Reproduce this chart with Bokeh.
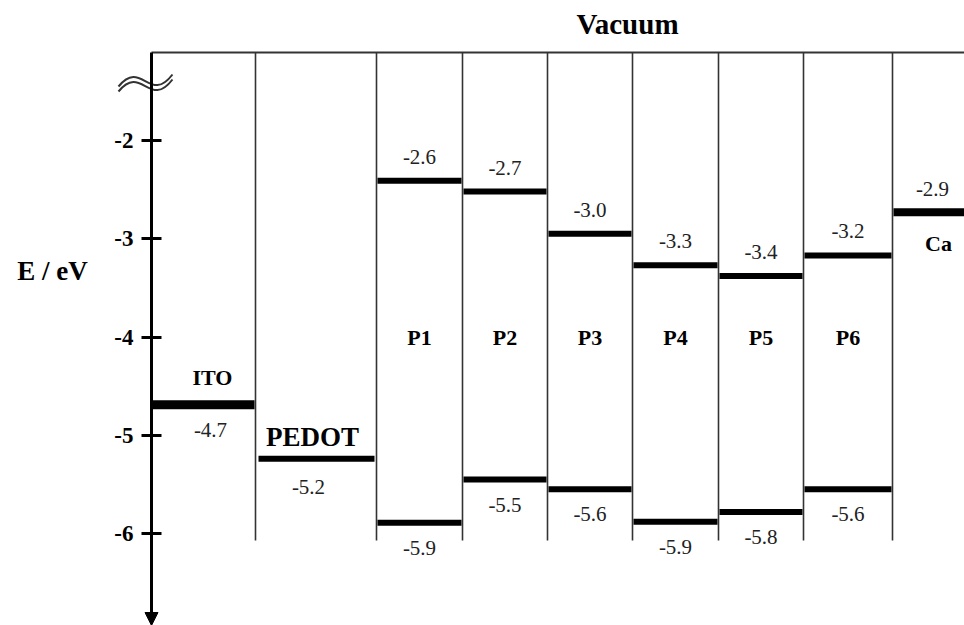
from bokeh.plotting import figure
from bokeh.models import Range1d, FixedTicker, Arrow, NormalHead
from bokeh.core.properties import value
from bokeh.embed import file_html
from bokeh.resources import INLINE

# ---------------- data ----------------
polymers = ["P1", "P2", "P3", "P4", "P5", "P6"]
lumo_levels = [-2.41, -2.52, -2.95, -3.27, -3.38, -3.17]     # drawn positions
homo_levels = [-5.89, -5.45, -5.55, -5.88, -5.78, -5.55]
lumo_labels = ["-2.6", "-2.7", "-3.0", "-3.3", "-3.4", "-3.2"]
homo_labels = ["-5.9", "-5.5", "-5.6", "-5.9", "-5.8", "-5.6"]

electrodes = ["ITO", "PEDOT", "Ca"]
electrode_levels = [-4.69, -5.24, -2.73]
electrode_labels = ["-4.7", "-5.2", "-2.9"]

y_ticks = [-2, -3, -4, -5, -6]
y_tick_labels = ["-2", "-3", "-4", "-5", "-6"]

# ---------------- layout ----------------
W, H = 964, 625
PX_PER_EV = 98.25
PX_AT_M2 = 140.0


def ev(px):
    return -2.0 - (px - PX_AT_M2) / PX_PER_EV


AXIS_X = 151
col_edges = [151, 255, 376, 462, 547, 632, 718, 803, 892, W]
TOP = ev(52)
LINE_BOTTOM = ev(540)
AXIS_BOTTOM = ev(622)

FONT = value("Liberation Serif")

p = figure(width=W, height=H, x_range=Range1d(0, W), y_range=Range1d(ev(H), ev(0)),
           min_border=0, toolbar_location=None, output_backend="svg",
           outline_line_color=None)
p.xaxis.visible = False
p.xgrid.visible = False
p.ygrid.visible = False

ax = p.yaxis[0]
ax.fixed_location = AXIS_X
ax.ticker = FixedTicker(ticks=y_ticks)
ax.major_label_overrides = {float(t): s for t, s in zip(y_ticks, y_tick_labels)}
ax.bounds = (AXIS_BOTTOM, TOP)
ax.axis_line_width = 3
ax.major_tick_line_width = 3
ax.major_tick_in = 10
ax.major_tick_out = 10
ax.minor_tick_line_color = None
ax.major_label_text_font = "Liberation Serif"
ax.major_label_text_font_style = "bold"
ax.major_label_text_font_size = "23px"
ax.major_label_text_color = "black"
ax.major_label_standoff = 8

# arrow at the bottom of the energy axis
p.add_layout(Arrow(end=NormalHead(size=13, fill_color="black", line_color="black"),
                   x_start=AXIS_X, y_start=ev(605), x_end=AXIS_X, y_end=ev(625),
                   line_width=3, line_color="black"))

# vacuum line and column separators
p.segment(x0=[AXIS_X], y0=[TOP], x1=[W], y1=[TOP], line_width=2, line_color="#333333")
seps = col_edges[1:-1]
p.segment(x0=seps, y0=[TOP] * len(seps), x1=seps, y1=[LINE_BOTTOM] * len(seps),
          line_width=1.6, line_color="#333333")

# polymer columns
pc = [(col_edges[i + 2] + col_edges[i + 3]) / 2 for i in range(len(polymers))]
px0 = [col_edges[i + 2] + 1 for i in range(len(polymers))]
px1 = [col_edges[i + 3] - 1 for i in range(len(polymers))]
p.segment(x0=px0, y0=lumo_levels, x1=px1, y1=lumo_levels, line_width=6,
          line_color="black", line_cap="butt")
p.segment(x0=px0, y0=homo_levels, x1=px1, y1=homo_levels, line_width=6,
          line_color="black", line_cap="butt")
p.text(x=pc, y=[v + 0.245 for v in lumo_levels], text=lumo_labels, text_font=FONT,
       text_font_size="21px", text_align="center", text_baseline="middle", text_color="#222222")
p.text(x=pc, y=[v - 0.255 for v in homo_levels], text=homo_labels, text_font=FONT,
       text_font_size="21px", text_align="center", text_baseline="middle", text_color="#222222")
p.text(x=pc, y=[-4.0] * len(polymers), text=polymers, text_font=FONT,
       text_font_size="22px", text_font_style="bold", text_align="center",
       text_baseline="middle")

# electrodes
e_x0 = [col_edges[0] + 1, col_edges[1] + 3, col_edges[8] + 1]
e_x1 = [col_edges[1] - 1, col_edges[2] - 2, W]
e_w = [9, 6, 8]
for x0, x1, lv, w in zip(e_x0, e_x1, electrode_levels, e_w):
    p.segment(x0=[x0], y0=[lv], x1=[x1], y1=[lv], line_width=w, line_color="black",
              line_cap="butt")

name_x = [212, 312, 938]
name_dy = [0.28, 0.22, -0.32]
name_size = ["22px", "27px", "22px"]
num_x = [210, 308, 932]
num_dy = [-0.26, -0.29, 0.24]
for i in range(3):
    p.text(x=[name_x[i]], y=[electrode_levels[i] + name_dy[i]], text=[electrodes[i]],
           text_font=FONT, text_font_size=name_size[i], text_font_style="bold",
           text_align="center", text_baseline="middle")
    p.text(x=[num_x[i]], y=[electrode_levels[i] + num_dy[i]], text=[electrode_labels[i]],
           text_font=FONT, text_font_size="21px", text_align="center",
           text_baseline="middle", text_color="#222222")

# axis title and vacuum label
p.text(x=[52], y=[ev(270)], text=["E / eV"], text_font=FONT, text_font_size="27px",
       text_font_style="bold", text_align="center", text_baseline="middle")
p.text(x=[627], y=[ev(23)], text=["Vacuum"], text_font=FONT, text_font_size="29px",
       text_font_style="bold", text_align="center", text_baseline="middle")

# axis break mark
for off in (0, 5):
    p.bezier(x0=[AXIS_X - 33], y0=[ev(86 + off)], x1=[AXIS_X + 21], y1=[ev(74 + off)],
             cx0=[AXIS_X - 10], cy0=[ev(58 + off)], cx1=[AXIS_X - 2], cy1=[ev(104 + off)],
             line_width=2, line_color="#333333")

open("out.html", "w").write(file_html(p, INLINE))
